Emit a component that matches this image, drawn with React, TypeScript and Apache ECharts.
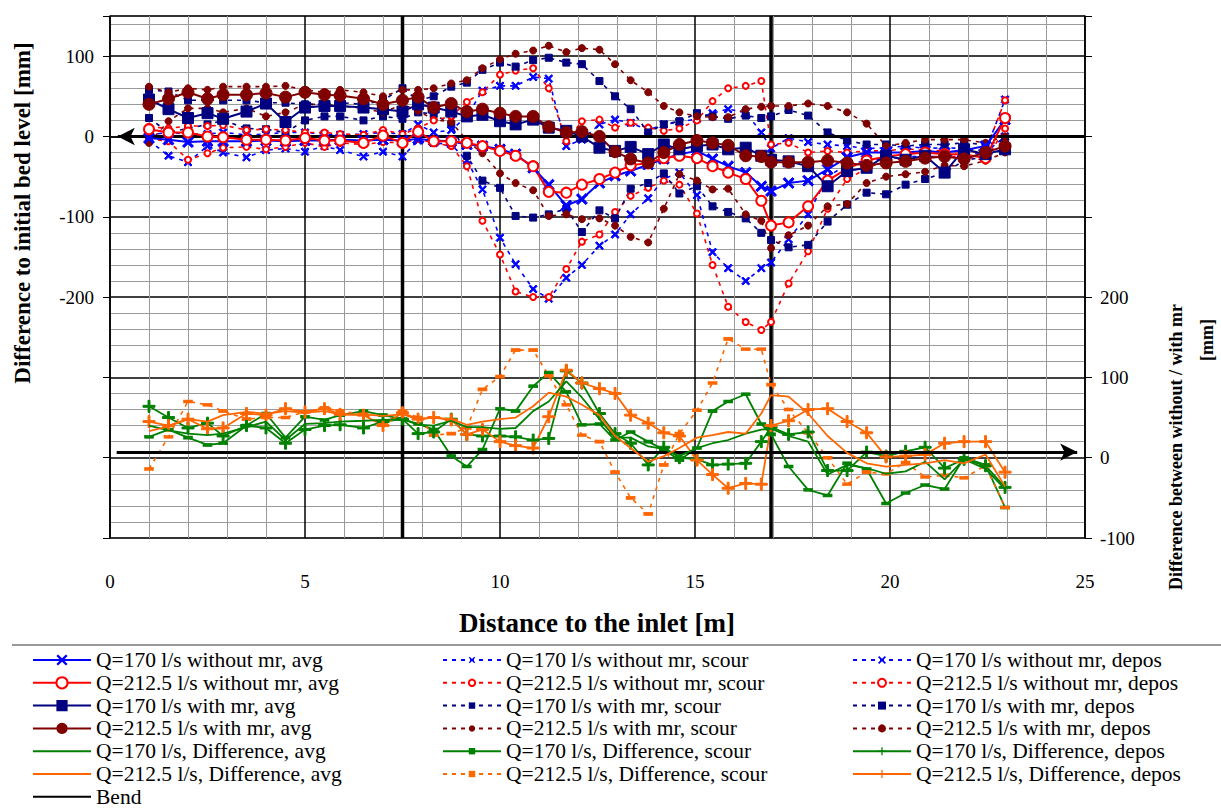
import React, { useEffect, useRef } from 'react';
import * as echarts from 'echarts';

// ---------- data ----------
const X = [1.0, 1.5, 2.0, 2.5, 2.9, 3.5, 4.0, 4.5, 5.0, 5.5, 5.9, 6.5, 7.0, 7.5, 7.9, 8.3, 8.75, 9.15, 9.55, 10.0, 10.4, 10.85, 11.25, 11.7, 12.1, 12.55, 12.95, 13.35, 13.8, 14.2, 14.6, 15.05, 15.45, 15.85, 16.3, 16.7, 16.95, 17.4, 17.9, 18.4, 18.9, 19.4, 19.9, 20.4, 20.9, 21.4, 21.9, 22.45, 22.95];

// upper panel: difference to initial bed level [mm] (left axis)
const Q170_WO_AVG = [-2, -4, -7, -6, -6, -6, -5, -6, -5, -5, -4, -5, -4, -5, -3, -5, -6, -10, -12, -16, -22, -39, -60, -86, -78, -58, -49, -43, -35, -28, -22, -18, -28, -37, -45, -62, -68, -58, -55, -41, -26, -20, -20, -20, -18, -20, -17, -12, 21];
const Q212_WO_AVG = [9, 5, 5, 0, -1, -4, -4, -5, -2, -5, -5, -8, 1, -8, 6, -6, -6, -8, -12, -18, -24, -37, -69, -70, -60, -53, -45, -36, -33, -27, -24, -27, -37, -45, -53, -80, -111, -107, -87, -55, -40, -30, -25, -22, -20, -22, -22, -27, 23];
const Q170_W_AVG = [46, 34, 23, 29, 22, 31, 41, 18, 36, 38, 38, 36, 34, 31, 40, 36, 31, 25, 27, 19, 15, 21, 11, 7, 0, -14, -18, -13, -22, -10, -16, -12, -10, -16, -14, -24, -29, -31, -37, -62, -43, -39, -24, -29, -24, -45, -16, -22, -16];
const Q212_W_AVG = [40, 47, 55, 47, 52, 52, 54, 49, 55, 52, 51, 47, 40, 45, 49, 36, 41, 31, 34, 29, 25, 25, 12, 5, 6, 0, -19, -28, -33, -20, -10, -5, -8, -11, -24, -25, -32, -32, -32, -30, -33, -36, -33, -31, -27, -25, -28, -20, -12];

const Q170_WO_SCOUR = [-5, -24, -32, -12, -20, -26, -17, -15, -19, -12, -17, -25, -19, -25, -5, -8, -10, -30, -66, -126, -159, -190, -202, -176, -160, -136, -122, -97, -77, -53, -45, -73, -144, -164, -180, -164, -157, -128, -97, -50, -35, -30, -28, -25, -25, -25, -22, -20, 0];
const Q212_WO_SCOUR = [-3, -6, -29, -21, -14, -13, -16, -13, -8, -13, -8, -10, -7, -8, -3, -8, -12, -37, -105, -147, -193, -200, -200, -165, -131, -122, -94, -74, -64, -55, -60, -96, -160, -212, -231, -241, -231, -183, -143, -90, -53, -40, -30, -28, -25, -25, -25, -30, 10];
const Q170_W_SCOUR = [23, 5, 10, 15, 20, 10, 9, 5, 20, 25, 25, 20, 25, 22, 30, 28, 15, -24, -55, -64, -99, -101, -97, -90, -119, -92, -102, -65, -58, -46, -71, -62, -87, -94, -102, -120, -129, -138, -135, -106, -85, -70, -72, -60, -53, -45, -30, -25, -15];
const Q212_W_SCOUR = [-8, 19, 35, 35, 30, 35, 25, 30, 40, 40, 38, 35, 30, 40, 32, 21, 18, -5, -21, -46, -58, -67, -99, -97, -103, -102, -111, -125, -132, -90, -47, -55, -66, -65, -97, -105, -139, -123, -111, -87, -84, -58, -50, -47, -44, -36, -37, -30, -20];

const Q170_WO_DEPOS = [2, 5, 3, 3, 5, 2, 3, 5, 5, 3, 2, 3, 5, 3, 15, 5, 8, 25, 57, 63, 63, 74, 72, -12, -4, 15, 21, 17, 8, 15, 18, 22, 29, 34, 30, 5, -15, -2, -7, -10, -12, -15, -14, -12, -15, -14, -15, -18, 46];
const Q212_WO_DEPOS = [12, 10, 13, 13, 14, 8, 9, 8, 5, 5, 3, 2, 8, 3, 10, 20, 25, 43, 55, 77, 82, 85, 60, -6, 19, 21, 11, 17, 11, 7, 10, 20, 44, 60, 63, 69, -10, -8, -20, -18, -20, -18, -18, -15, -18, -17, -20, -18, 45];
const Q170_W_DEPOS = [58, 56, 45, 45, 45, 45, 42, 42, 40, 40, 42, 40, 45, 60, 45, 50, 62, 67, 83, 92, 87, 95, 98, 92, 90, 69, 50, 34, 5, 15, 19, 29, 25, 22, 26, 23, 25, 33, 26, 5, -5, -10, -10, -12, -10, -10, -8, -10, -5];
const Q212_W_DEPOS = [62, 55, 60, 58, 62, 62, 62, 63, 58, 55, 58, 55, 50, 58, 58, 60, 66, 70, 85, 96, 103, 107, 113, 105, 110, 108, 90, 70, 55, 38, 30, 25, 24, 24, 34, 37, 38, 38, 41, 38, 30, 16, -12, -8, -4, -4, -4, -8, 0];

// lower panel: difference between without / with mr [mm] (right axis)
const Q170_DIFF_AVG = [40, 34, 30, 28, 30, 38, 45, 22, 42, 43, 45, 46, 47, 48, 41, 40, 46, 38, 38, 36, 37, 58, 70, 95, 75, 48, 25, 25, 14, 11, 2, 12, 18, 22, 30, 35, 36, 27, 20, -21, -9, -13, -20, -17, -5, -27, -2, -14, -39];
const Q170_DIFF_SCOUR = [26, 35, 25, 16, 18, 40, 55, 25, 51, 47, 53, 58, 53, 48, 42, 35, 2, -11, 10, 61, 58, 89, 106, 82, 41, 42, 22, 32, 20, 10, -3, 12, 58, 70, 79, 42, 29, -11, -40, -47, -7, -14, -57, -44, -34, -39, 0, -9, -62];
const Q170_DIFF_DEPOS = [64, 50, 37, 43, 27, 40, 37, 18, 35, 40, 41, 37, 45, 48, 30, 32, 48, 29, 27, 27, 26, 22, 24, 108, 93, 55, 30, 18, -9, 13, 0, -2, -9, -8, -7, 20, 38, 29, 32, -16, -16, 7, 2, 8, 13, -13, -2, -10, -37];
const Q212_DIFF_AVG = [33, 39, 48, 45, 53, 57, 55, 58, 56, 58, 54, 54, 52, 54, 48, 50, 48, 41, 45, 48, 50, 64, 81, 76, 66, 53, 27, 12, -5, 2, 12, 25, 28, 32, 30, 55, 78, 76, 55, 27, 6, -7, -11, -9, -7, -3, -7, 4, -36];
const Q212_DIFF_SCOUR = [-14, 26, 70, 66, 58, 48, 50, 50, 57, 62, 58, 54, 41, 58, 50, 28, 30, 37, 85, 101, 134, 134, 102, 66, 28, 20, -18, -50, -70, -9, 30, 59, 93, 148, 135, 135, 91, 60, 31, 0, -33, -18, -20, -6, -24, -22, -25, -10, -62];
const Q212_DIFF_DEPOS = [45, 40, 48, 36, 37, 55, 53, 61, 57, 61, 54, 53, 40, 56, 48, 50, 47, 29, 35, 20, 15, 12, 51, 109, 93, 86, 80, 53, 43, 31, 27, -3, -21, -38, -32, -33, 40, 46, 60, 61, 45, 31, 1, 2, 4, 18, 20, 20, -18];

const BEND_X = [7.5, 16.95];
const LEFT_LABELS = [100, 0, -100, -200];
const RIGHT_LABELS = [200, 100, 0, -100];
const UPPER_ARROW = { from: [25, 0], to: [0.2, 0] };   // left axis
const LOWER_ARROW = { from: [0.17, 7], to: [24.8, 7] }; // right axis

// ---------- styles ----------
const FONT = 'Liberation Serif';
const BLUE = '#0000FF';
const RED = '#FF0000';
const NAVY = '#000080';
const MAROON = '#800000';
const GREEN = '#008000';
const ORANGE = '#FF6600';
const DASH = [4, 5];
const SYM_X = 'path://M0,1.5 L1.5,0 L5,3.5 L8.5,0 L10,1.5 L6.5,5 L10,8.5 L8.5,10 L5,6.5 L1.5,10 L0,8.5 L3.5,5 Z';
const SYM_PLUS = 'path://M4.2,0 H5.8 V4.2 H10 V5.8 H5.8 V10 H4.2 V5.8 H0 V4.2 H4.2 Z';

type Spec = { name: string; values: number[]; color: string; symbol: string; size: any; dashed: boolean; axis: number; width: number; z: number };

const SPECS: Spec[] = [
  { name: 'Q=170 l/s without mr, avg', values: Q170_WO_AVG, color: BLUE, symbol: SYM_X, size: 11, dashed: false, axis: 0, width: 2, z: 6 },
  { name: 'Q=212.5 l/s without mr, avg', values: Q212_WO_AVG, color: RED, symbol: 'emptyCircle', size: 10, dashed: false, axis: 0, width: 2, z: 6 },
  { name: 'Q=170 l/s with mr, avg', values: Q170_W_AVG, color: NAVY, symbol: 'rect', size: 11, dashed: false, axis: 0, width: 2, z: 6 },
  { name: 'Q=212.5 l/s with mr, avg', values: Q212_W_AVG, color: MAROON, symbol: 'circle', size: 12, dashed: false, axis: 0, width: 2, z: 6 },
  { name: 'Q=170 l/s, Difference, avg', values: Q170_DIFF_AVG, color: GREEN, symbol: 'none', size: 0, dashed: false, axis: 1, width: 1.8, z: 5 },
  { name: 'Q=212.5 l/s, Difference, avg', values: Q212_DIFF_AVG, color: ORANGE, symbol: 'none', size: 0, dashed: false, axis: 1, width: 1.8, z: 5 },

  { name: 'Q=170 l/s without mr, scour', values: Q170_WO_SCOUR, color: BLUE, symbol: SYM_X, size: 8, dashed: true, axis: 0, width: 1.6, z: 4 },
  { name: 'Q=212.5 l/s without mr, scour', values: Q212_WO_SCOUR, color: RED, symbol: 'emptyCircle', size: 6, dashed: true, axis: 0, width: 1.6, z: 4 },
  { name: 'Q=170 l/s with mr, scour', values: Q170_W_SCOUR, color: NAVY, symbol: 'rect', size: 7, dashed: true, axis: 0, width: 1.6, z: 4 },
  { name: 'Q=212.5 l/s with mr, scour', values: Q212_W_SCOUR, color: MAROON, symbol: 'circle', size: 7, dashed: true, axis: 0, width: 1.6, z: 4 },
  { name: 'Q=170 l/s, Difference, scour', values: Q170_DIFF_SCOUR, color: GREEN, symbol: 'rect', size: [8, 3], dashed: false, axis: 1, width: 1.8, z: 4 },
  { name: 'Q=212.5 l/s, Difference, scour', values: Q212_DIFF_SCOUR, color: ORANGE, symbol: 'rect', size: [8, 3], dashed: true, axis: 1, width: 1.6, z: 4 },

  { name: 'Q=170 l/s without mr, depos', values: Q170_WO_DEPOS, color: BLUE, symbol: SYM_X, size: 8, dashed: true, axis: 0, width: 1.6, z: 4 },
  { name: 'Q=212.5 l/s without mr, depos', values: Q212_WO_DEPOS, color: RED, symbol: 'emptyCircle', size: 6, dashed: true, axis: 0, width: 1.6, z: 4 },
  { name: 'Q=170 l/s with mr, depos', values: Q170_W_DEPOS, color: NAVY, symbol: 'rect', size: 7, dashed: true, axis: 0, width: 1.6, z: 4 },
  { name: 'Q=212.5 l/s with mr, depos', values: Q212_W_DEPOS, color: MAROON, symbol: 'circle', size: 7, dashed: true, axis: 0, width: 1.6, z: 4 },
  { name: 'Q=170 l/s, Difference, depos', values: Q170_DIFF_DEPOS, color: GREEN, symbol: SYM_PLUS, size: 12, dashed: false, axis: 1, width: 1.8, z: 4 },
  { name: 'Q=212.5 l/s, Difference, depos', values: Q212_DIFF_DEPOS, color: ORANGE, symbol: SYM_PLUS, size: 12, dashed: false, axis: 1, width: 1.8, z: 4 },
];

function buildSeries(s: Spec) {
  return {
    type: 'line',
    name: s.name,
    yAxisIndex: s.axis,
    data: X.map((x, i) => [x, s.values[i]]),
    symbol: s.symbol,
    symbolSize: s.size,
    showSymbol: s.symbol !== 'none',
    lineStyle: { color: s.color, width: s.width, type: s.dashed ? DASH : 'solid' },
    itemStyle: { color: s.color, borderColor: s.color },
    emphasis: { disabled: true },
    silent: true,
    z: s.z,
  };
}

const HIDE_SYMBOL = { color: 'rgba(0,0,0,0)', borderColor: 'rgba(0,0,0,0)', borderWidth: 0 };
const noSymbolNames = ['Q=170 l/s, Difference, avg', 'Q=212.5 l/s, Difference, avg', 'Bend'];
const legendItem = (name: string) => (noSymbolNames.includes(name) ? { name, itemStyle: HIDE_SYMBOL } : { name });

const COL1 = [...SPECS.slice(0, 6).map((s) => s.name), 'Bend'];
const COL2 = SPECS.slice(6, 12).map((s) => s.name);
const COL3 = SPECS.slice(12, 18).map((s) => s.name);

function legend(left: number, names: string[], iconH: number) {
  return {
    orient: 'vertical',
    left,
    top: 649,
    height: 200,
    padding: 0,
    itemWidth: 58,
    itemHeight: iconH,
    itemGap: 0.8,
    selectedMode: false,
    textStyle: { fontFamily: FONT, fontSize: 21.5, color: '#000', lineHeight: 21.5 },
    data: names.map(legendItem),
  };
}

export default function App() {
  const ref = useRef<HTMLDivElement>(null);
  useEffect(() => {
    if (!ref.current) return;
    const chart = echarts.init(ref.current, null, { renderer: 'svg' });

    const series: any[] = SPECS.map(buildSeries);
    BEND_X.forEach((bx) => {
      series.push({
        type: 'line', name: 'Bend', yAxisIndex: 0,
        data: [[bx, 150], [bx, -500]],
        symbol: 'none', showSymbol: false,
        lineStyle: { color: '#000', width: 3.5 },
        itemStyle: { color: '#000' },
        silent: true, z: 3,
      });
    });
    const arrowLine = (axis: number, a: { from: number[]; to: number[] }) => ({
      type: 'line', yAxisIndex: axis, data: [], silent: true, z: 7,
      markLine: {
        silent: true, symbol: ['none', 'arrow'], symbolSize: 15,
        label: { show: false },
        lineStyle: { color: '#000', width: 3, type: 'solid' },
        data: [[{ coord: a.from, symbol: 'none' }, { coord: a.to, symbol: 'arrow', symbolSize: [13, 17] }]],
      },
    });
    series.push(arrowLine(0, UPPER_ARROW));
    series.push(arrowLine(1, LOWER_ARROW));

    const labelText = { fontFamily: FONT, fontSize: 19, color: '#000' };
    const txt = (text: string, px: number) => ({
      text, font: `bold ${px}px ${FONT}`, fill: '#000',
      textAlign: 'center', textVerticalAlign: 'middle', align: 'center', verticalAlign: 'middle',
    });

    chart.setOption({
      animation: false,
      backgroundColor: '#fff',
      grid: { left: 110, right: 136, top: 16, bottom: 272, show: true, borderColor: '#999', borderWidth: 1 },
      xAxis: {
        type: 'value', min: 0, max: 25, interval: 5,
        axisLine: { show: true, lineStyle: { color: '#000', width: 1.5 } },
        axisTick: { show: false },
        axisLabel: { ...labelText, margin: 34 },
        splitLine: { show: true, lineStyle: { color: '#000', width: 1.5 } },
        minorTick: { show: false, splitNumber: 5 },
        minorSplitLine: { show: true, lineStyle: { color: '#9a9a9a', width: 1 } },
      },
      yAxis: [
        {
          type: 'value', min: -500, max: 150, interval: 100, position: 'left',
          axisLine: { show: true, lineStyle: { color: '#000', width: 1.5 } },
          axisTick: { show: true, length: 7, lineStyle: { color: '#000' } },
          axisLabel: { ...labelText, margin: 16, formatter: (v: number) => (LEFT_LABELS.includes(v) ? String(v) : '') },
          splitLine: { show: true, lineStyle: { color: '#000', width: 1.5 } },
          minorTick: { show: false, splitNumber: 5 },
          minorSplitLine: { show: true, lineStyle: { color: '#9a9a9a', width: 1 } },
        },
        {
          type: 'value', min: -100, max: 550, interval: 100, position: 'right',
          axisLine: { show: true, lineStyle: { color: '#000', width: 1.5 } },
          axisTick: { show: true, length: 7, lineStyle: { color: '#000' } },
          axisLabel: { ...labelText, margin: 15, formatter: (v: number) => (RIGHT_LABELS.includes(v) ? String(v) : '') },
          splitLine: { show: false },
        },
      ],
      legend: [legend(32, COL1, 14), legend(442, COL2, 8), legend(852, COL3, 10)],
      graphic: [
        { type: 'line', shape: { x1: 12, y1: 645, x2: 1221, y2: 645 }, style: { stroke: '#333', lineWidth: 1 }, silent: true },
        { type: 'text', x: 22, y: 213, rotation: Math.PI / 2, silent: true, style: txt('Difference to initial bed level [mm]', 23) },
        { type: 'text', x: 1176, y: 447, rotation: Math.PI / 2, silent: true, style: txt('Difference between without / with mr', 18) },
        { type: 'text', x: 1207, y: 340, rotation: Math.PI / 2, silent: true, style: txt('[mm]', 18) },
        { type: 'text', x: 597, y: 623, silent: true, style: txt('Distance to the inlet [m]', 27) },
      ],
      series,
    });
    return () => chart.dispose();
  }, []);
  return <div ref={ref} style={{ position: 'fixed', left: 0, top: 0, width: '1221px', height: '810px', background: '#fff' }} />;
}
